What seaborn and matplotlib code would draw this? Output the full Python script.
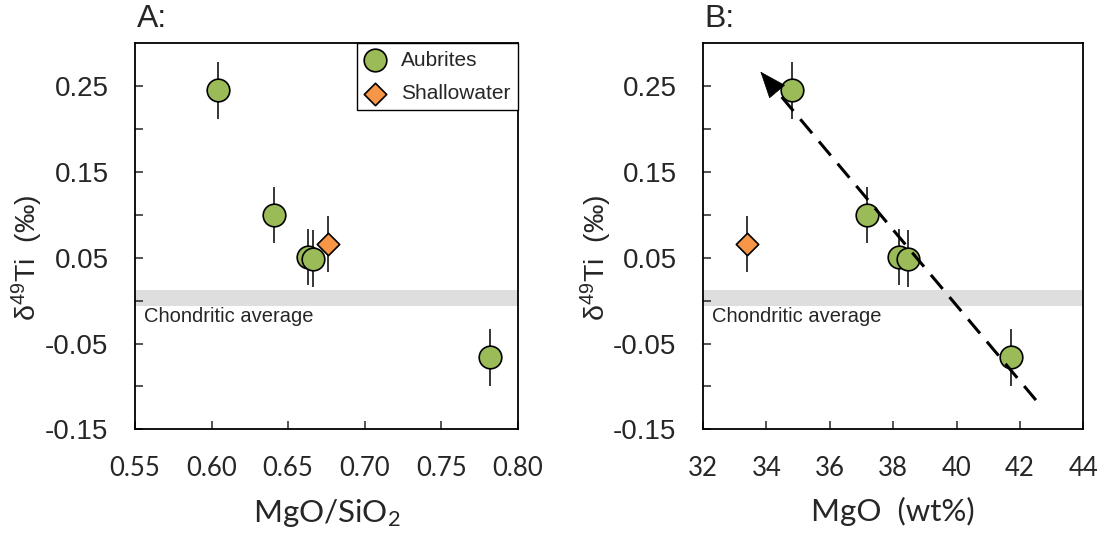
import matplotlib
matplotlib.use("Agg")
import matplotlib.pyplot as plt
import seaborn as sns
import pandas as pd

# delta49Ti (permil) for aubrites and Shallowater, shared by both panels
aubrite_d49ti = [0.245, 0.100, 0.051, 0.049, -0.066]
aubrite_err = [0.033, 0.033, 0.033, 0.033, 0.033]
shallowater_d49ti = [0.066]
shallowater_err = [0.033]

# panel A: MgO/SiO2
aubrite_ratio = [0.604, 0.641, 0.663, 0.666, 0.782]
shallowater_ratio = [0.676]

# panel B: MgO (wt%)
aubrite_mgo = [34.81, 37.18, 38.18, 38.47, 41.71]
shallowater_mgo = [33.39]

# chondritic average band and trend arrow (panel B)
chondritic_band = (-0.006, 0.012)
trend_start = (42.50, -0.116)
trend_end = (33.81, 0.267)

y_ticks = [-0.15, -0.10, -0.05, 0.00, 0.05, 0.10, 0.15, 0.20, 0.25]
y_labels = ["-0.15", "", "-0.05", "", "0.05", "", "0.15", "", "0.25"]
ratio_ticks = [0.55, 0.60, 0.65, 0.70, 0.75, 0.80]
mgo_ticks = [32, 34, 36, 38, 40, 42, 44]

GREEN = "#9bbb59"
ORANGE = "#f79646"
HELV = ["Liberation Sans", "DejaVu Sans"]

sns.set_style("white")
plt.rcParams["font.family"] = HELV
plt.rcParams["mathtext.fontset"] = "custom"
plt.rcParams["mathtext.rm"] = "Liberation Sans"
plt.rcParams["mathtext.it"] = "Liberation Sans:italic"
plt.rcParams["mathtext.default"] = "regular"

aub_a = pd.DataFrame({"x": aubrite_ratio, "y": aubrite_d49ti, "err": aubrite_err})
sh_a = pd.DataFrame({"x": shallowater_ratio, "y": shallowater_d49ti, "err": shallowater_err})
aub_b = pd.DataFrame({"x": aubrite_mgo, "y": aubrite_d49ti, "err": aubrite_err})
sh_b = pd.DataFrame({"x": shallowater_mgo, "y": shallowater_d49ti, "err": shallowater_err})


def draw_panel(ax, aub, sh, xticks, xlabel, letter):
    ax.axhspan(chondritic_band[0], chondritic_band[1], color="#dedede", lw=0, zorder=0)
    ax.text(0.024, chondritic_band[0] - 0.002, "Chondritic average", transform=ax.get_yaxis_transform(),
            fontsize=14.5, family=HELV, ha="left", va="top")
    for df in (aub, sh):
        ax.errorbar(df["x"], df["y"], yerr=df["err"], fmt="none", ecolor="black", elinewidth=1.1,
                    capsize=0, zorder=2)
    sns.scatterplot(data=aub, x="x", y="y", ax=ax, marker="o", s=265, color=GREEN,
                    edgecolor="black", linewidth=1.2, label="Aubrites", zorder=3)
    sns.scatterplot(data=sh, x="x", y="y", ax=ax, marker="D", s=130, color=ORANGE,
                    edgecolor="black", linewidth=1.2, label="Shallowater", zorder=3)

    ax.set_xlim(xticks[0], xticks[-1])
    ax.set_ylim(-0.15, 0.30)
    ax.set_xticks(xticks)
    ax.set_xticklabels([f"{t:.2f}" if isinstance(t, float) else str(t) for t in xticks],
                       family=["Lato", "DejaVu Sans"], fontsize=18.5)
    ax.set_yticks(y_ticks)
    ax.set_yticklabels(y_labels, family=HELV, fontsize=20)
    ax.tick_params(axis="x", direction="in", length=6, width=1.1, pad=19, bottom=True)
    ax.tick_params(axis="y", direction="in", length=6, width=1.1, pad=19, left=True)
    for sp in ax.spines.values():
        sp.set_visible(True)
        sp.set_color("black")
        sp.set_linewidth(1.3)

    ax.set_xlabel(xlabel, family=["Lato", "DejaVu Sans"], fontsize=22.5, labelpad=12)
    ax.set_ylabel("δ$^{49}$Ti  (‰)", family=HELV, fontsize=20.5)
    ax.yaxis.set_label_coords(-0.235, 0.445)
    ax.text(0.004, 1.025, letter, transform=ax.transAxes, family=HELV, fontsize=23,
            ha="left", va="bottom")


fig = plt.figure(figsize=(11.01, 5.37), dpi=100)
ax_a = fig.add_axes([0.1226, 0.2006, 0.3476, 0.7188])
ax_b = fig.add_axes([0.6385, 0.2006, 0.3456, 0.7188])

draw_panel(ax_a, aub_a, sh_a, ratio_ticks, r"MgO/SiO$_2$", "A:")
draw_panel(ax_b, aub_b, sh_b, mgo_ticks, "MgO  (wt%)", "B:")

leg = ax_a.legend(loc="upper right", borderaxespad=0, fancybox=False, edgecolor="black",
                  framealpha=1, prop={"family": HELV, "size": 15}, handlelength=1.0,
                  handletextpad=0.75, borderpad=0.35, labelspacing=0.7, scatterpoints=1)
leg.get_frame().set_linewidth(1.0)
ax_b.get_legend().remove()

# dashed trend line with a filled arrow head (panel B)
frac = 0.06
head_base = (trend_end[0] + (trend_start[0] - trend_end[0]) * frac,
             trend_end[1] + (trend_start[1] - trend_end[1]) * frac)
ax_b.plot([trend_start[0], head_base[0]], [trend_start[1], head_base[1]], color="black", lw=2.2,
          dashes=(6, 3.5), zorder=4)
ax_b.annotate("", xy=trend_end, xytext=head_base,
              arrowprops=dict(arrowstyle="-|>,head_length=0.9,head_width=0.35", color="black",
                              lw=0.5, mutation_scale=20, shrinkA=0, shrinkB=0), zorder=4)

fig.savefig("out.png", dpi=100)
